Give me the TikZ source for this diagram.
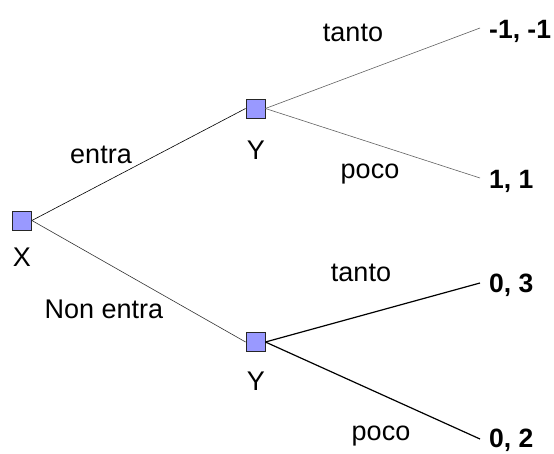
\documentclass[tikz,border=0pt]{standalone}
\usepackage{fontspec}
\setmainfont{Liberation Sans}
\definecolor{sqfill}{HTML}{9999FF}
\begin{document}
\begin{tikzpicture}[x=1pt,y=-1pt,
  dec/.style={draw=black!85, fill=sqfill, minimum size=19pt, inner sep=0pt, line width=0.8pt},
  lbl/.style={font=\fontsize{27}{30}\selectfont, anchor=base, inner sep=0pt},
  pay/.style={font=\fontsize{26.5}{30}\selectfont\bfseries, anchor=base west, inner sep=0pt},
  thinb/.style={draw=black, line width=0.6pt},
  thing/.style={draw=black!62, line width=0.6pt},
  thickb/.style={draw=black, line width=1.2pt}]
\useasboundingbox (0,0) rectangle (554,453);
\node[dec] (X) at (22,220.5) {};
\node[dec] (Y1) at (255.5,108.5) {};
\node[dec] (Y2) at (255.5,342) {};
\coordinate (e1) at (480,28);
\coordinate (e2) at (480,178);
\coordinate (e3) at (480,283);
\coordinate (e4) at (480,439);
\draw[thinb] (X.east) -- (Y1.west);
\draw[draw=black!80, line width=0.6pt] (X.east) -- (Y2.west);
\draw[thing] (Y1.east) -- (e1);
\draw[thing] (Y1.east) -- (e2);
\draw[thickb] (Y2.east) -- (e3);
\draw[thickb] (Y2.east) -- (e4);
\node[lbl] (lx) at (22,266) {X};
\node[lbl] (ly1) at (256,159) {Y};
\node[lbl] (ly2) at (256,390) {Y};
\node[lbl] (l1) at (101,163) {entra};
\node[lbl] (l2) at (104,318) {Non entra};
\node[lbl] (l3) at (353,41) {tanto};
\node[lbl] (l4) at (370,178) {poco};
\node[lbl] (l5) at (361,281) {tanto};
\node[lbl] (l6) at (381,440) {poco};
\node[pay] (p1) at (489,38) {-1, -1};
\node[pay] (p2) at (489,188) {1, 1};
\node[pay] (p3) at (489,292) {0, 3};
\node[pay] (p4) at (489,447) {0, 2};
\end{tikzpicture}
\end{document}
